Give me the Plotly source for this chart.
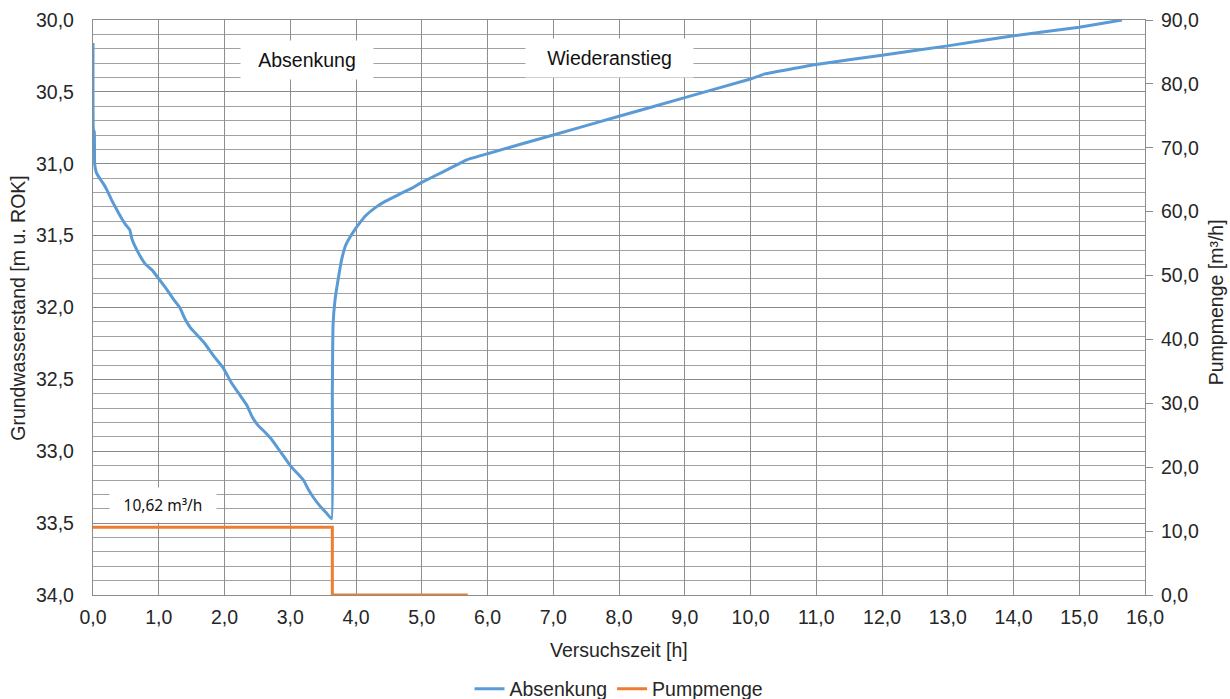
import plotly.graph_objects as go

# Pumpversuch: Absenkung und Wiederanstieg des Grundwasserstands
zeit_h = [0.00, 0.005, 0.02, 0.025, 0.05, 0.10, 0.16, 0.22, 0.28, 0.35, 0.41, 0.49,
          0.56, 0.59, 0.69, 0.80, 0.90, 1.00, 1.10, 1.22, 1.32, 1.40, 1.48, 1.58,
          1.70, 1.84, 1.98, 2.10, 2.22, 2.34, 2.42, 2.51, 2.62, 2.72, 2.86, 3.00,
          3.10, 3.20, 3.28, 3.35, 3.45, 3.55, 3.63, 3.64, 3.645, 3.65, 3.68, 3.73,
          3.78, 3.84, 3.91, 3.98, 4.06, 4.15, 4.31, 4.45, 4.67, 4.85, 5.00, 5.33,
          5.63, 5.70, 6.00, 7.00, 8.00, 9.00, 10.00, 10.22, 11.00, 12.00, 13.00,
          14.00, 15.00, 15.65]
wasserstand = [30.16, 30.76, 30.78, 31.00, 31.06, 31.10, 31.14, 31.19, 31.25, 31.31, 31.36, 31.42,
               31.46, 31.52, 31.62, 31.70, 31.74, 31.80, 31.86, 31.94, 32.00, 32.08, 32.14, 32.19,
               32.25, 32.34, 32.42, 32.52, 32.60, 32.68, 32.76, 32.82, 32.87, 32.92, 33.01, 33.10,
               33.15, 33.20, 33.27, 33.32, 33.38, 33.43, 33.47, 32.60, 32.30, 32.13, 31.95, 31.80,
               31.67, 31.57, 31.51, 31.46, 31.41, 31.36, 31.30, 31.26, 31.21, 31.17, 31.13, 31.055,
               30.985, 30.97, 30.93, 30.80, 30.67, 30.54, 30.41, 30.375, 30.31, 30.245, 30.18,
               30.11, 30.05, 30.00]

pump_zeit_h = [0.0, 3.64, 3.64, 5.70]
pumpmenge = [10.62, 10.62, 0.0, 0.0]

x_ticks = [i for i in range(0, 17)]
y_ticks = [30.0, 30.5, 31.0, 31.5, 32.0, 32.5, 33.0, 33.5, 34.0]
y2_ticks = [i * 10 for i in range(0, 10)]

BLUE = "#5B9BD5"
ORANGE = "#ED7D31"
FONT = "Liberation Sans, Arial, sans-serif"
TXT = "#262626"
FS = 19.5

fig = go.Figure()
fig.add_trace(go.Scatter(x=zeit_h, y=wasserstand, mode="lines", name="Absenkung",
                         line=dict(color=BLUE, width=3, shape="spline", smoothing=0.3),
                         yaxis="y"))
fig.add_trace(go.Scatter(x=pump_zeit_h, y=pumpmenge, mode="lines", name="Pumpmenge",
                         line=dict(color=ORANGE, width=3), yaxis="y2"))

fig.update_layout(
    width=1230, height=699,
    margin=dict(l=93, r=85, t=20, b=104, autoexpand=False),
    paper_bgcolor="white", plot_bgcolor="white",
    separators=", ",
    font=dict(family=FONT, size=FS, color=TXT),
    showlegend=True,
    legend=dict(orientation="h", x=0.5, xanchor="center", y=-0.1635, yanchor="middle",
                font=dict(size=FS, color=TXT), itemwidth=30, bgcolor="rgba(0,0,0,0)"),
    xaxis=dict(range=[0, 16], tickvals=x_ticks, tickformat=".1f",
               showgrid=True, gridcolor="#8e8e8e", gridwidth=1.3,
               showline=True, linecolor="#8c8c8c", linewidth=1.3, mirror=True,
               ticks="", zeroline=False, ticklabelstandoff=4,
               tickfont=dict(size=FS, color=TXT)),
    yaxis=dict(range=[34, 30], tickvals=y_ticks, tickformat=".1f",
               showgrid=True, gridcolor="#8a8a8a", gridwidth=1.4,
               minor=dict(dtick=0.1, showgrid=True, gridcolor="#a2a2a2", gridwidth=1),
               showline=True, linecolor="#8c8c8c", linewidth=1.3, mirror=True,
               ticks="", zeroline=False, ticklabelstandoff=14,
               tickfont=dict(size=FS, color=TXT)),
    yaxis2=dict(range=[0, 90], tickvals=y2_ticks, tickformat=".1f",
                overlaying="y", side="right", showgrid=False, zeroline=False,
                showline=False, ticks="outside", ticklen=7, tickcolor="#8c8c8c",
                tickwidth=1.3, ticklabelstandoff=4,
                tickfont=dict(size=FS, color=TXT)),
)

label_pump = f"{pumpmenge[0]:.2f}".replace(".", ",") + " m³/h"

annotations = [
    dict(text="Absenkung", x=3.26, y=30.278, xref="x", yref="y", showarrow=False,
         bgcolor="white", width=130, height=36, font=dict(size=FS, color="#111111")),
    dict(text="Wiederanstieg", x=7.86, y=30.264, xref="x", yref="y", showarrow=False,
         bgcolor="white", width=165, height=36, font=dict(size=FS, color="#111111")),
    dict(text=label_pump, x=1.057, y=33.374, xref="x", yref="y", showarrow=False,
         bgcolor="white", width=104, height=32,
         font=dict(family="Noto Sans, sans-serif", size=15.5, color="#111111")),
    # axis titles
    dict(text="Versuchszeit [h]", x=0.5, y=-0.095, xref="paper", yref="paper",
         xanchor="center", yanchor="middle", showarrow=False,
         font=dict(size=FS, color=TXT)),
    dict(text="Grundwasserstand [m u. ROK]", x=-0.072, y=0.5, xref="paper", yref="paper",
         xanchor="center", yanchor="middle", showarrow=False, textangle=-90,
         font=dict(size=FS, color=TXT)),
    dict(text="Pumpmenge [m³/h]", x=1.067, y=0.51, xref="paper", yref="paper",
         xanchor="center", yanchor="middle", showarrow=False, textangle=-90,
         font=dict(size=FS, color=TXT)),
]
fig.update_layout(annotations=annotations)

fig.write_html("out.html")
